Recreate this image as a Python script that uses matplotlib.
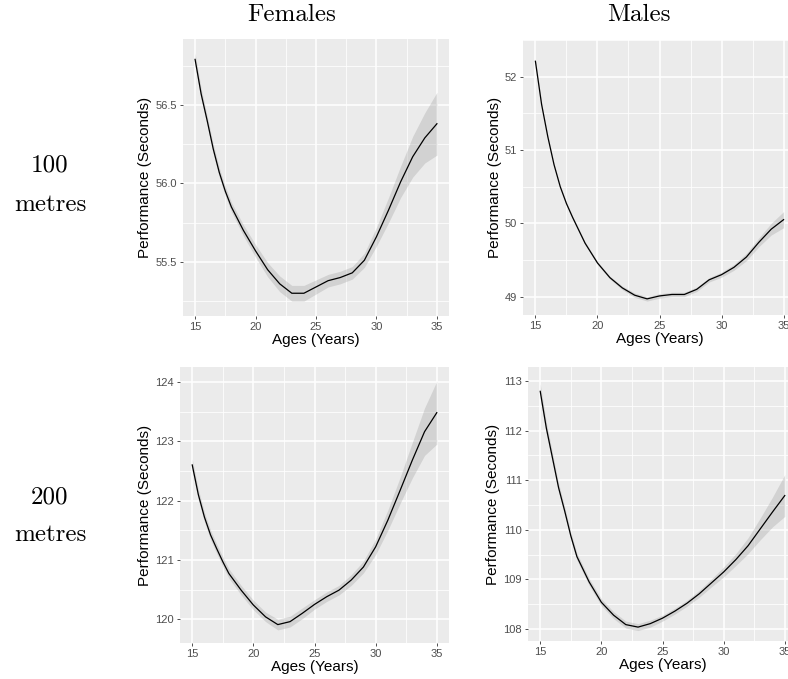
import numpy as np
import matplotlib.pyplot as plt
from matplotlib.ticker import MultipleLocator

ages = [15, 15.5, 16, 16.5, 17, 17.5, 18, 19, 20, 21, 22, 23, 24,
        25, 26, 27, 28, 29, 30, 31, 32, 33, 34, 35]

# 100 m females
f100 = [56.79, 56.57, 56.40, 56.22, 56.07, 55.95, 55.85, 55.70, 55.57, 55.45,
        55.36, 55.30, 55.30, 55.34, 55.38, 55.40, 55.43, 55.51, 55.66, 55.83,
        56.01, 56.17, 56.29, 56.38]
f100_se = [0.04, 0.035, 0.03, 0.03, 0.03, 0.03, 0.03, 0.035, 0.04, 0.045,
           0.05, 0.05, 0.05, 0.045, 0.04, 0.04, 0.04, 0.045, 0.06, 0.08,
           0.10, 0.13, 0.16, 0.20]

# 100 m males
m100 = [52.21, 51.62, 51.18, 50.80, 50.50, 50.27, 50.08, 49.73, 49.46, 49.26,
        49.12, 49.02, 48.97, 49.01, 49.03, 49.03, 49.10, 49.23, 49.30, 49.40,
        49.54, 49.74, 49.92, 50.05]
m100_se = [0.03, 0.025, 0.02, 0.02, 0.02, 0.02, 0.02, 0.02, 0.02, 0.02,
           0.025, 0.03, 0.03, 0.03, 0.03, 0.03, 0.03, 0.03, 0.035, 0.04,
           0.05, 0.06, 0.08, 0.11]

# 200 m females
f200 = [122.60, 122.10, 121.72, 121.42, 121.19, 120.97, 120.77, 120.49, 120.24,
        120.04, 119.91, 119.96, 120.10, 120.25, 120.38, 120.49, 120.66, 120.88,
        121.22, 121.67, 122.17, 122.68, 123.16, 123.48]
f200_se = [0.10, 0.09, 0.08, 0.08, 0.08, 0.08, 0.08, 0.08, 0.08, 0.08,
           0.09, 0.09, 0.09, 0.08, 0.08, 0.08, 0.09, 0.10, 0.13, 0.17,
           0.22, 0.30, 0.40, 0.53]

# 200 m males
m200 = [112.79, 112.05, 111.45, 110.85, 110.38, 109.88, 109.46, 108.95, 108.54,
        108.28, 108.09, 108.04, 108.11, 108.22, 108.36, 108.52, 108.71, 108.93,
        109.15, 109.40, 109.68, 110.02, 110.36, 110.69]
m200_se = [0.15, 0.12, 0.10, 0.09, 0.08, 0.08, 0.07, 0.07, 0.07, 0.07,
           0.07, 0.07, 0.07, 0.06, 0.06, 0.06, 0.07, 0.08, 0.10, 0.12,
           0.16, 0.22, 0.30, 0.42]

W, H = 788, 679
fig = plt.figure(figsize=(W / 100, H / 100), dpi=100)

sans = 'Liberation Sans'
serif = 'cmr10'


def add_panel(box, y, se, ylim, ystep):
    l, t, r, b = box
    ax = fig.add_axes([l / W, 1 - b / H, (r - l) / W, (b - t) / H])
    ax.set_facecolor('#EBEBEB')
    y = np.array(y)
    se = np.array(se)
    ax.fill_between(ages, y - se, y + se, color='#999999', alpha=0.3, lw=0)
    ax.plot(ages, y, color='black', lw=0.9)
    ax.set_xlim(14, 36)
    ax.set_ylim(*ylim)
    ax.xaxis.set_major_locator(MultipleLocator(5))
    ax.xaxis.set_minor_locator(MultipleLocator(2.5))
    ax.yaxis.set_major_locator(MultipleLocator(ystep))
    ax.yaxis.set_minor_locator(MultipleLocator(ystep / 2))
    ax.grid(which='major', color='white', lw=1.1)
    ax.grid(which='minor', color='white', lw=0.55)
    ax.set_axisbelow(True)
    for s in ax.spines.values():
        s.set_visible(False)
    ax.tick_params(which='major', length=2.5, width=0.6, color='#333333',
                   labelcolor='#4D4D4D', labelsize=8, pad=2)
    ax.tick_params(which='minor', length=0)
    for lab in ax.get_xticklabels() + ax.get_yticklabels():
        lab.set_fontfamily(sans)
    if ystep == 0.5:
        ax.yaxis.set_major_formatter(plt.FormatStrFormatter('%.1f'))
    ax.set_xlabel('Ages (Years)', fontsize=11, family=sans, labelpad=0.5)
    ax.set_ylabel('Performance (Seconds)', fontsize=11, family=sans, labelpad=2)
    return ax


add_panel((183, 39, 449, 316), f100, f100_se, (55.155, 56.92), 0.5)
add_panel((523, 40, 796, 315), m100, m100_se, (48.75, 52.5), 1)
add_panel((180, 367, 449, 643), f200, f200_se, (119.6, 124.25), 1)
add_panel((528, 367, 797, 641), m200, m200_se, (107.76, 113.28), 1)

fig.text(292 / W, 1 - 15 / H, 'Females', family=serif, fontsize=18,
         ha='center', va='center')
fig.text(639 / W, 1 - 15 / H, 'Males', family=serif, fontsize=18,
         ha='center', va='center')
for label, yc in [('100', 165), ('metres', 205), ('200', 497), ('metres', 535)]:
    fig.text(50 / W, 1 - yc / H, label, family=serif, fontsize=18,
             ha='center', va='center')

fig.savefig('out.png', dpi=100)
